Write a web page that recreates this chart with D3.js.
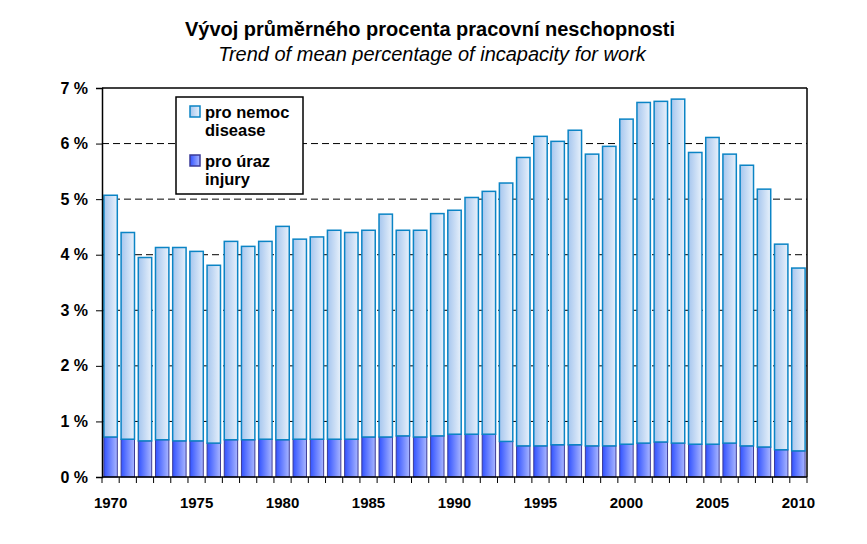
<!DOCTYPE html>
<html>
<head>
<meta charset="utf-8">
<script src="https://cdn.jsdelivr.net/npm/d3@7"></script>
<style>
  body { margin: 0; background: #fff; }
  text { font-family: "Liberation Sans", Arial, sans-serif; }
</style>
</head>
<body>
<div id="chart"></div>
<script>
// categories
var years = d3.range(1970, 2011);

// series values, in %
var injury = [
  0.72, 0.68, 0.65, 0.67, 0.65, 0.65, 0.61, 0.67, 0.67, 0.68,
  0.67, 0.68, 0.68, 0.68, 0.68, 0.72, 0.72, 0.74, 0.72, 0.74,
  0.77, 0.77, 0.77, 0.64, 0.56, 0.56, 0.58, 0.58, 0.56, 0.56,
  0.59, 0.61, 0.63, 0.61, 0.59, 0.59, 0.61, 0.56, 0.54, 0.49,
  0.47
];
var disease = [
  4.35, 3.72, 3.30, 3.46, 3.48, 3.41, 3.20, 3.57, 3.48, 3.56,
  3.84, 3.60, 3.64, 3.76, 3.72, 3.72, 4.01, 3.70, 3.72, 4.00,
  4.03, 4.26, 4.37, 4.65, 5.19, 5.57, 5.46, 5.66, 5.25, 5.39,
  5.85, 6.13, 6.13, 6.19, 5.25, 5.52, 5.20, 5.05, 4.64, 3.70,
  3.29
];

// tick labels
var yTicks = [0, 1, 2, 3, 4, 5, 6, 7];
var xLabels = [1970, 1975, 1980, 1985, 1990, 1995, 2000, 2005, 2010];

var title = 'Vývoj průměrného procenta pracovní neschopnosti'
  , subtitle = 'Trend of mean percentage of incapacity for work'
  , legendItems = [
      { key: 'disease', lines: ['pro nemoc', 'disease'], fill: 'url(#gDisease)', stroke: '#0b84c5' },
      { key: 'injury', lines: ['pro úraz', 'injury'], fill: 'url(#gInjury)', stroke: '#3b3b98' }
    ]
;

var width = 867
  , height = 544
  , margin = { top: 88, right: 60, bottom: 67, left: 102 }
  , innerW = width - margin.left - margin.right
  , innerH = height - margin.top - margin.bottom
;

var rows = years.map(function (y, i) {
  return { year: y, injury: injury[i], disease: disease[i] };
});

var series = d3.stack().keys(['injury', 'disease'])(rows);

var x = d3.scaleBand()
    .domain(years)
    .range([0, innerW])
    .paddingInner(0.22)
    .paddingOuter(0.11);

var y = d3.scaleLinear()
    .domain([0, 7])
    .range([innerH, 0]);

var svg = d3.select('#chart').append('svg')
    .attr('width', width)
    .attr('height', height);

// gradients for the bars
var defs = svg.append('defs');
function gradient(id, from, to) {
  var g = defs.append('linearGradient')
      .attr('id', id)
      .attr('x1', '0%').attr('x2', '100%')
      .attr('y1', '0%').attr('y2', '0%');
  g.append('stop').attr('offset', '0%').attr('stop-color', from);
  g.append('stop').attr('offset', '100%').attr('stop-color', to);
}
gradient('gDisease', '#a6c6ee', '#e8f1fb');
gradient('gInjury', '#3253ff', '#a9b6ff');

// titles
svg.append('text')
    .attr('x', 430).attr('y', 36)
    .attr('text-anchor', 'middle')
    .style('font-size', '20px')
    .style('font-weight', 'bold')
    .text(title);

svg.append('text')
    .attr('x', 432).attr('y', 61)
    .attr('text-anchor', 'middle')
    .style('font-size', '20px')
    .style('font-style', 'italic')
    .text(subtitle);

var plot = svg.append('g')
    .attr('transform', 'translate(' + margin.left + ',' + margin.top + ')');

// dashed grid lines
plot.append('g')
    .selectAll('line')
    .data(yTicks.filter(function (t) { return t > 0 && t < 7; }))
    .enter()
    .append('line')
    .attr('x1', 0).attr('x2', innerW)
    .attr('y1', function (d) { return y(d); })
    .attr('y2', function (d) { return y(d); })
    .attr('stroke', '#000')
    .attr('stroke-width', 1)
    .attr('stroke-dasharray', '7,4');

// bars, injury at the bottom, disease stacked on top
var styles = { injury: legendItems[1], disease: legendItems[0] };

plot.selectAll('g.layer')
    .data(series)
    .enter()
    .append('g')
    .attr('class', 'layer')
    .each(function (s) {
      d3.select(this).selectAll('rect')
        .data(s)
        .enter()
        .append('rect')
        .attr('x', function (d) { return x(d.data.year); })
        .attr('width', x.bandwidth())
        .attr('y', function (d) { return y(d[1]); })
        .attr('height', function (d) { return y(d[0]) - y(d[1]); })
        .attr('fill', styles[s.key].fill)
        .attr('stroke', styles[s.key].stroke)
        .attr('stroke-width', s.key === 'disease' ? 1.5 : 1);
    });

// frame top and right
plot.append('line')
    .attr('x1', 0).attr('x2', innerW).attr('y1', 0).attr('y2', 0)
    .attr('stroke', '#000').attr('stroke-width', 1.5);
plot.append('line')
    .attr('x1', innerW).attr('x2', innerW).attr('y1', 0).attr('y2', innerH)
    .attr('stroke', '#000').attr('stroke-width', 1.5);

// y axis
var yAxis = plot.append('g')
    .call(d3.axisLeft(y)
      .tickValues(yTicks)
      .tickSize(6)
      .tickPadding(8)
      .tickFormat(function (d) { return d + ' %'; }));
yAxis.select('.domain').attr('stroke-width', 1.5);
yAxis.selectAll('text')
    .style('font-size', '16px')
    .style('font-weight', 'bold')
    .attr('fill', '#000');

// x axis: ticks on the band boundaries
var step = x.step()
  , half = (step - x.bandwidth()) / 2
;
var bounds = years.map(function (yr) { return x(yr) - half; }).concat([innerW]);

var xAxis = plot.append('g')
    .attr('transform', 'translate(0,' + innerH + ')');

xAxis.append('line')
    .attr('x1', 0).attr('x2', innerW)
    .attr('stroke', '#000').attr('stroke-width', 1.5);

xAxis.selectAll('line.tick')
    .data(bounds)
    .enter()
    .append('line')
    .attr('class', 'tick')
    .attr('x1', function (d) { return d; })
    .attr('x2', function (d) { return d; })
    .attr('y1', 0).attr('y2', 6)
    .attr('stroke', '#000').attr('stroke-width', 1);

xAxis.selectAll('text')
    .data(xLabels)
    .enter()
    .append('text')
    .attr('x', function (d) { return x(d) + x.bandwidth() / 2; })
    .attr('y', 31)
    .attr('text-anchor', 'middle')
    .style('font-size', '15px')
    .style('font-weight', 'bold')
    .text(function (d) { return d; });

// legend
var legend = svg.append('g')
    .attr('transform', 'translate(176,97)');

legend.append('rect')
    .attr('width', 127).attr('height', 97)
    .attr('fill', '#fff')
    .attr('stroke', '#000').attr('stroke-width', 1.5);

var item = legend.selectAll('g.item')
    .data(legendItems)
    .enter()
    .append('g')
    .attr('class', 'item')
    .attr('transform', function (d, i) { return 'translate(0,' + (i * 49) + ')'; });

item.append('rect')
    .attr('x', 14).attr('y', 9)
    .attr('width', 10).attr('height', 11)
    .attr('fill', function (d) { return d.fill; })
    .attr('stroke', function (d) { return d.stroke; })
    .attr('stroke-width', 1.5);

item.append('text')
    .style('font-size', '16.5px')
    .style('font-weight', 'bold')
    .selectAll('tspan')
    .data(function (d) { return d.lines; })
    .enter()
    .append('tspan')
    .attr('x', 29)
    .attr('y', function (d, i) { return 21 + i * 18; })
    .text(function (d) { return d; });
</script>
</body>
</html>
